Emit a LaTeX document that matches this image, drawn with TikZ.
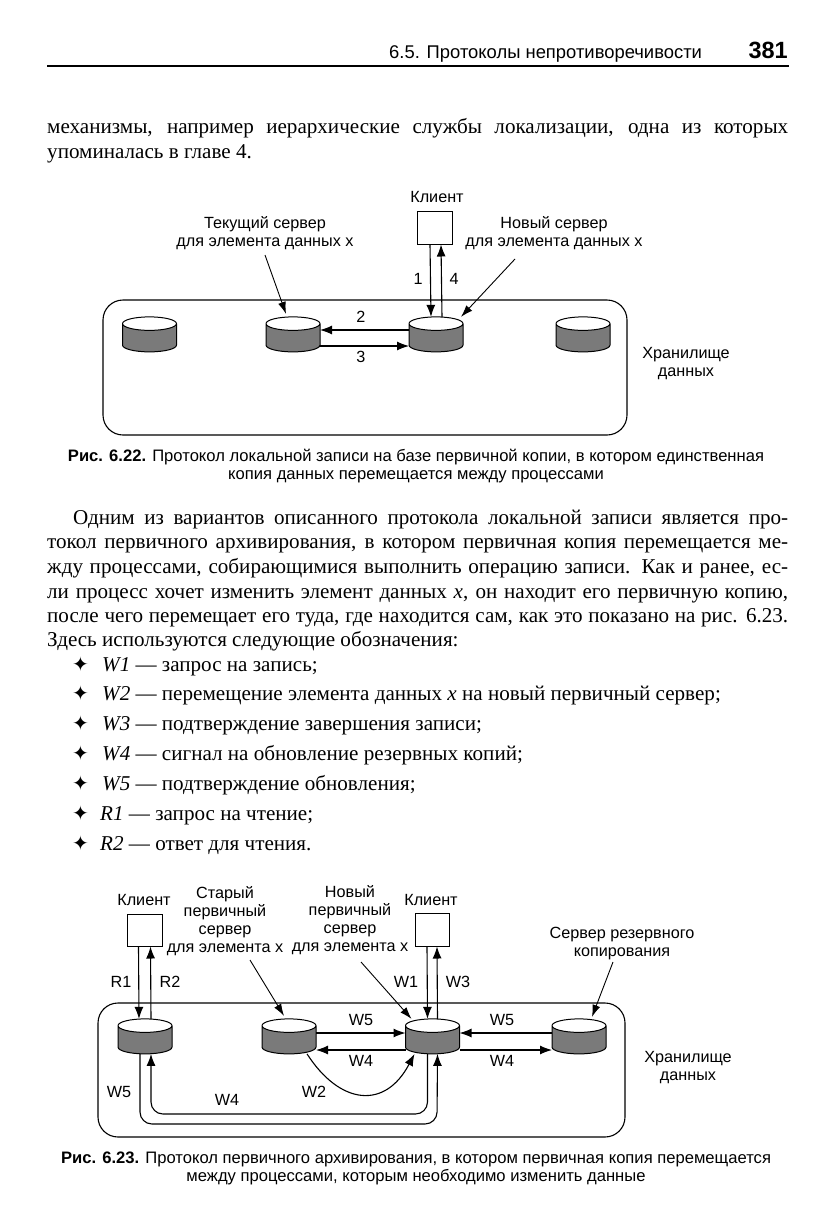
\documentclass[tikz,border=0pt]{standalone}
\usepackage{fontspec}
\setmainfont{Liberation Serif}
\setsansfont{Liberation Sans}
\newfontfamily\starfont{DejaVu Sans}
\usetikzlibrary{arrows.meta}
\usetikzlibrary{shapes.geometric}
\tikzset{arr/.style = {-{Latex[length=12pt,width=9pt]}, line width=1.1pt}}
\tikzset{ptr/.style = {-{Latex[length=12pt,width=8pt]}, line width=0.9pt}}
\tikzset{body/.style = {anchor=base west, inner sep=0, font=\fontsize{21.1}{25}\selectfont}}
\tikzset{lab/.style = {inner sep=0, align=center, font=\sffamily\fontsize{16.2}{18}\selectfont}}
\tikzset{caption/.style = {inner sep=0, align=center, font=\sffamily\fontsize{16.6}{18}\selectfont}}
\tikzset{store/.style = {draw, rounded corners=20, line width=1.1pt, inner sep=0}}
\tikzset{client/.style = {draw, rectangle, line width=1pt, inner sep=0}}
\tikzset{server/.style = {draw, cylinder, shape border rotate=90, shape aspect=0.25, line width=1pt,
                          inner sep=0, outer sep=0, text width=54pt, minimum height=35,
                          cylinder uses custom fill, cylinder end fill=white,
                          cylinder body fill=black!52}}
\newcommand{\jline}[2]{\hbox to #1pt{#2}}
\newcommand{\itemstar}{{\starfont\fontsize{20}{20}\selectfont ✦}}

\begin{document}
\begin{tikzpicture}[x=1pt, y=-1pt]
    \useasboundingbox (0, 0) rectangle (834, 1229);

    % page head
    \node [anchor=base west, inner sep=0, font=\sffamily\fontsize{18.4}{22}\selectfont] (head) at (389, 58) {6.5. Протоколы непротиворечивости};
    \node [anchor=base east, inner sep=0, font=\sffamily\bfseries\fontsize{23.5}{22}\selectfont] (page) at (788, 58) {381};
    \coordinate (ruleA) at (47, 66);
    \coordinate (ruleB) at (789, 66);
    \draw [line width=1.6pt] (ruleA) -- (ruleB);

    \node [body] (t1) at (47, 133) {\jline{741}{механизмы, например иерархические службы локализации, одна из которых}};
    \node [body] (t2) at (47, 158) {упоминалась в главе 4.};

    % first figure
    \node [store, minimum width=524, minimum height=135] (storeA) at (365, 367.5) {};
    \node [lab] (clientAlab) at (437, 197) {Клиент};
    \node [client, minimum width=35, minimum height=33] (clientA) at (435, 227.5) {};
    \node [server] (srvA) at (149.5, 338) {};
    \node [server] (srvB) at (293, 338) {};
    \node [server] (srvC) at (436, 338) {};
    \node [server] (srvD) at (583, 338) {};
    \node [lab] (curlab) at (265, 233) {Текущий сервер\\для элемента данных x};
    \node [lab] (newlab) at (554, 233) {Новый сервер\\для элемента данных x};
    \node [lab] (stlabA) at (686, 363.5) {Хранилище\\данных};
    \coordinate (curfrom) at (265, 255);
    \coordinate (newfrom) at (515, 259);
    \draw [ptr] (curfrom) -- ([xshift=-7pt,yshift=3pt]srvB.north);
    \draw [ptr] (newfrom) -- ([xshift=25pt]srvC.north);
    \draw [arr] ([xshift=-5pt]clientA.south) -- ([xshift=-5pt]srvC.north);
    \draw [arr] ([xshift=6pt]srvC.north) -- ([xshift=6pt]clientA.south);
    \draw [arr] ([yshift=8pt]srvC.west) -- ([yshift=8pt]srvB.east);
    \draw [arr] ([yshift=-8pt]srvB.east) -- ([yshift=-8pt]srvC.west);
    \node [lab] (n1) at (418, 279) {1};
    \node [lab] (n4) at (454, 279) {4};
    \node [lab] (n2) at (361, 317) {2};
    \node [lab] (n3) at (361, 357) {3};
    \node [caption] (capA) at (416, 466) {{\bfseries Рис. 6.22.} Протокол локальной записи на базе первичной копии, в котором единственная\\копия данных перемещается между процессами};

    % list and paragraph
    \node [body] (p1) at (73, 524) {\jline{715}{Одним из вариантов описанного протокола локальной записи является про-}};
    \node [body] (p2) at (47, 548) {\jline{741}{токол первичного архивирования, в котором первичная копия перемещается ме-}};
    \node [body] (p3) at (47, 573) {\jline{741}{жду процессами, собирающимися выполнить операцию записи. Как и ранее, ес-}};
    \node [body] (p4) at (47, 598) {\jline{741}{ли процесс хочет изменить элемент данных \textit{x}, он находит его первичную копию,}};
    \node [body] (p5) at (47, 622) {\jline{741}{после чего перемещает его туда, где находится сам, как это показано на рис. 6.23.}};
    \node [body] (p6) at (47, 646) {Здесь используются следующие обозначения:};
    \node [body] (b1) at (72, 671) {\itemstar};
    \node [body] (i1) at (102, 671) {\textit{W1} — запрос на запись;};
    \node [body] (b2) at (72, 700.5) {\itemstar};
    \node [body] (i2) at (102, 700.5) {\textit{W2} — перемещение элемента данных \textit{x} на новый первичный сервер;};
    \node [body] (b3) at (72, 730) {\itemstar};
    \node [body] (i3) at (102, 730) {\textit{W3} — подтверждение завершения записи;};
    \node [body] (b4) at (72, 760) {\itemstar};
    \node [body] (i4) at (102, 760) {\textit{W4} — сигнал на обновление резервных копий;};
    \node [body] (b5) at (72, 790) {\itemstar};
    \node [body] (i5) at (102, 790) {\textit{W5} — подтверждение обновления;};
    \node [body] (b6) at (72, 820) {\itemstar};
    \node [body] (i6) at (100, 820) {\textit{R1} — запрос на чтение;};
    \node [body] (b7) at (72, 850) {\itemstar};
    \node [body] (i7) at (100, 850) {\textit{R2} — ответ для чтения.};

    % second figure
    \node [store, minimum width=527, minimum height=134] (storeB) at (361.5, 1070) {};
    \node [lab] (clientPlab) at (144, 900) {Клиент};
    \node [lab] (clientQlab) at (431, 900) {Клиент};
    \node [client, minimum width=35, minimum height=32] (clientP) at (144.5, 930) {};
    \node [client, minimum width=34, minimum height=33] (clientQ) at (432, 929.5) {};
    \node [server] (srvP) at (145, 1040) {};
    \node [server] (srvQ) at (289, 1040) {};
    \node [server] (srvR) at (432.5, 1040) {};
    \node [server] (srvS) at (579, 1040) {};
    \node [lab] (oldlab) at (225, 921.5) {Старый\\первичный\\сервер\\для элемента x};
    \node [lab] (prilab) at (350, 920) {Новый\\первичный\\сервер\\для элемента x};
    \node [lab] (baklab) at (622, 944) {Сервер резервного\\копирования};
    \node [lab] (stlabB) at (688, 1068) {Хранилище\\данных};
    \coordinate (oldfrom) at (250, 960);
    \coordinate (prifrom) at (361, 962);
    \coordinate (bakfrom) at (613, 962);
    \draw [ptr] (oldfrom) -- ([xshift=-5pt,yshift=3pt]srvQ.north);
    \draw [ptr] (prifrom) -- ([xshift=-21pt]srvR.north);
    \draw [ptr] (bakfrom) -- ([xshift=13pt,yshift=2pt]srvS.north);
    \draw [arr] ([xshift=-6pt]clientP.south) -- ([xshift=-6pt]srvP.north);
    \draw [arr] ([xshift=6pt]srvP.north) -- ([xshift=6pt]clientP.south);
    \draw [arr] ([xshift=-5pt]clientQ.south) -- ([xshift=-5pt]srvR.north);
    \draw [arr] ([xshift=5pt]srvR.north) -- ([xshift=5pt]clientQ.south);
    \draw [arr] ([yshift=7pt]srvQ.east) -- ([yshift=7pt]srvR.west);
    \draw [arr] ([yshift=-10pt]srvR.west) -- ([yshift=-10pt]srvQ.east);
    \draw [arr] ([yshift=7pt]srvS.west) -- ([yshift=7pt]srvR.east);
    \draw [arr] ([yshift=-10pt]srvR.east) -- ([yshift=-10pt]srvS.west);
    \draw [arr] ([xshift=18pt]srvQ.south) .. controls (340, 1105) and (385, 1110) .. ([xshift=-18pt]srvR.south);
    \draw [arr, rounded corners=12] ([xshift=-5pt]srvR.south) |- (151, 1114) -- ([xshift=6pt]srvP.south);
    \draw [arr, rounded corners=12] ([xshift=-5pt]srvP.south) |- (437, 1124) -- ([xshift=5pt]srvR.south);
    \node [lab] (r1) at (121, 982) {R1};
    \node [lab] (r2) at (170, 982) {R2};
    \node [lab] (w1) at (406, 982) {W1};
    \node [lab] (w3) at (458, 982) {W3};
    \node [lab] (w5a) at (361, 1020) {W5};
    \node [lab] (w4a) at (361, 1061) {W4};
    \node [lab] (w5b) at (502, 1020) {W5};
    \node [lab] (w4b) at (502, 1061) {W4};
    \node [lab] (w5c) at (119, 1092) {W5};
    \node [lab] (w4c) at (227, 1100) {W4};
    \node [lab] (w2) at (314, 1092) {W2};
    \node [caption] (capB) at (416, 1168) {{\bfseries Рис. 6.23.} Протокол первичного архивирования, в котором первичная копия перемещается\\между процессами, которым необходимо изменить данные};
\end{tikzpicture}
\end{document}
